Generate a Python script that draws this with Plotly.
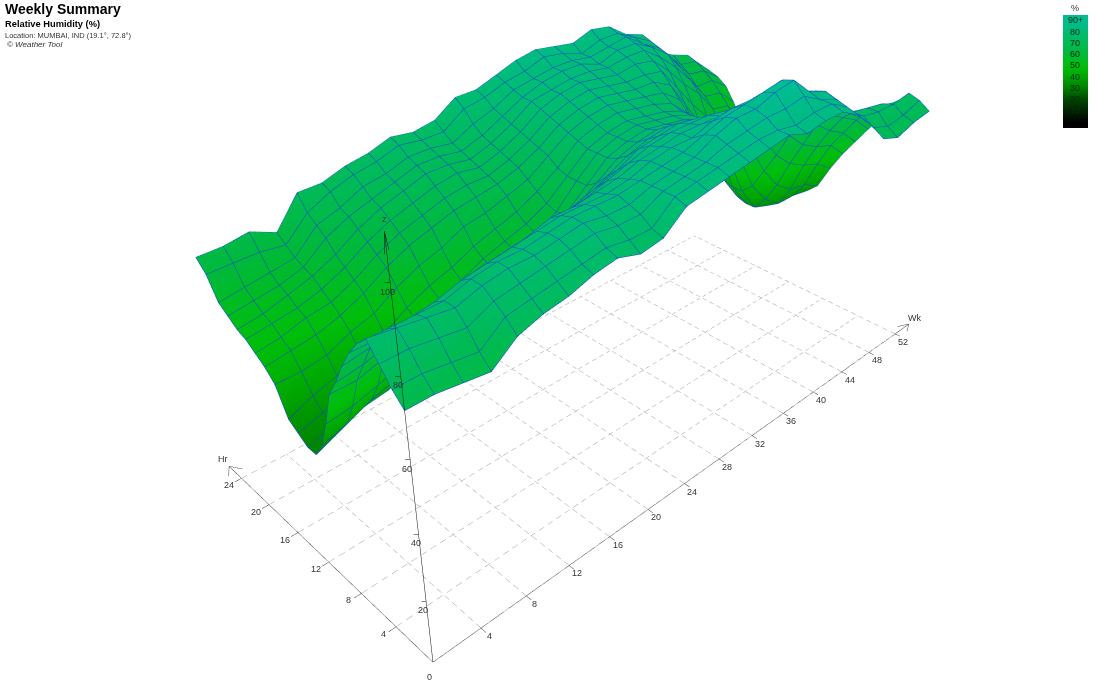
import plotly.graph_objects as go

# fig is taller than the window and pulled up by TOP, this gives the lens of the original view
H = 934.3
TOP = 118.7

weeks = [0, 2, 4, 6, 8, 10, 12, 14, 16, 18, 20, 22, 24, 26, 28, 30, 32, 34, 36, 38, 40, 42, 44, 46, 48, 50]
hours = [0, 1, 2, 3, 4, 5, 6, 7, 8, 9, 10, 11, 12, 13, 14, 15, 16, 17, 18, 19, 20, 21, 22, 23]

# relative humidity, one row per week, one value per hour
humidity = [
    [72, 75, 79, 83, 80, 76, 71, 65, 60, 50, 42, 37, 37, 39, 41, 49, 52, 54, 56, 57, 59, 61, 67, 70],
    [72, 75, 79, 82, 80, 76, 72, 66, 60, 51, 44, 40, 39, 41, 44, 49, 53, 55, 57, 58, 60, 62, 67, 70],
    [71, 74, 78, 81, 80, 77, 73, 68, 62, 53, 47, 43, 42, 43, 46, 50, 54, 57, 58, 60, 61, 63, 67, 71],
    [70, 73, 77, 80, 80, 78, 74, 69, 63, 55, 49, 44, 43, 45, 48, 53, 56, 58, 60, 62, 63, 64, 66, 68],
    [75, 78, 80, 82, 82, 80, 76, 71, 65, 58, 52, 48, 47, 48, 51, 55, 59, 61, 63, 65, 68, 70, 72, 76],
    [77, 79, 81, 83, 83, 81, 78, 73, 68, 62, 56, 53, 52, 53, 55, 59, 63, 65, 67, 69, 71, 72, 75, 76],
    [78, 80, 82, 83, 83, 82, 79, 75, 70, 65, 59, 56, 55, 56, 58, 62, 66, 68, 70, 72, 73, 75, 77, 78],
    [80, 81, 83, 84, 84, 83, 80, 76, 72, 67, 62, 58, 57, 58, 60, 64, 68, 70, 72, 74, 75, 76, 78, 79],
    [81, 82, 84, 85, 85, 84, 82, 78, 74, 69, 65, 61, 60, 61, 63, 67, 70, 72, 74, 76, 77, 78, 80, 81],
    [79, 81, 83, 84, 85, 84, 82, 79, 75, 71, 67, 63, 62, 63, 65, 68, 71, 73, 75, 76, 77, 78, 79, 80],
    [80, 81, 83, 84, 85, 84, 83, 80, 77, 73, 69, 65, 64, 65, 67, 70, 72, 73, 74, 75, 76, 77, 79, 81],
    [85, 86, 86, 86, 86, 85, 84, 82, 79, 75, 71, 68, 67, 68, 70, 72, 74, 75, 76, 77, 78, 80, 83, 85],
    [86, 87, 87, 87, 87, 87, 86, 84, 81, 78, 75, 73, 73, 73, 74, 76, 77, 78, 79, 80, 81, 82, 84, 85],
    [87, 88, 88, 88, 88, 88, 87, 86, 84, 81, 79, 78, 78, 78, 79, 80, 81, 82, 83, 84, 84, 85, 86, 87],
    [88, 89, 90, 91, 90, 88, 88, 87, 85, 83, 81, 80, 80, 80, 81, 82, 83, 84, 85, 85, 86, 86, 87, 89],
    [89, 90, 91, 93, 92, 90, 88, 87, 86, 84, 82, 81, 81, 81, 82, 83, 84, 85, 86, 86, 87, 87, 89, 90],
    [90, 90, 92, 93, 93, 91, 88, 87, 85, 83, 81, 80, 80, 80, 81, 82, 83, 84, 85, 86, 87, 87, 88, 89],
    [88, 89, 92, 95, 94, 91, 87, 86, 84, 82, 80, 79, 79, 79, 80, 81, 82, 83, 84, 85, 85, 86, 86, 88],
    [89, 90, 93, 96, 95, 91, 87, 85, 83, 81, 78, 77, 77, 77, 78, 80, 82, 83, 85, 86, 87, 87, 88, 90],
    [89, 90, 90, 91, 90, 88, 85, 82, 78, 75, 73, 72, 72, 72, 73, 76, 79, 82, 84, 86, 87, 88, 88, 89],
    [86, 87, 88, 89, 88, 85, 80, 76, 71, 66, 62, 60, 60, 60, 62, 66, 71, 75, 79, 82, 84, 84, 85, 85],
    [81, 82, 82, 82, 81, 79, 75, 70, 63, 57, 51, 48, 48, 49, 52, 57, 63, 68, 73, 77, 80, 81, 82, 83],
    [75, 77, 79, 79, 78, 76, 72, 65, 58, 50, 44, 40, 40, 41, 45, 50, 56, 62, 68, 71, 73, 75, 76, 76],
    [73, 75, 78, 78, 76, 73, 68, 62, 55, 46, 40, 38, 37, 38, 41, 45, 51, 56, 61, 64, 66, 69, 71, 73],
    [75, 76, 78, 77, 74, 70, 65, 60, 53, 45, 40, 38, 38, 39, 41, 45, 50, 55, 60, 63, 66, 68, 70, 71],
    [76, 78, 79, 74, 70, 65, 60, 55, 49, 42, 39, 39, 39, 40, 42, 44, 47, 50, 53, 58, 62, 64, 65, 65],
]

wk_ticks = [4, 8, 12, 16, 20, 24, 28, 32, 36, 40, 44, 48, 52]
hr_ticks = [4, 8, 12, 16, 20, 24]
z_ticks = [20, 40, 60, 80, 100]
legend_vals = [15, 25, 35, 45, 55, 65, 75, 85, 95]
legend_text = ["10", "20", "30", "40", "50", "60", "70", "80", "90+"]

colorscale = [
    [0.0, "rgb(0,0,0)"], [0.05, "rgb(0,0,0)"], [0.15, "rgb(0,35,0)"], [0.25, "rgb(0,70,0)"],
    [0.35, "rgb(0,125,0)"], [0.45, "rgb(0,165,0)"], [0.55, "rgb(0,190,10)"], [0.65, "rgb(0,185,55)"],
    [0.75, "rgb(0,186,85)"], [0.85, "rgb(0,188,115)"], [0.95, "rgb(0,188,145)"], [1.0, "rgb(0,188,145)"],
]


def ypos(py):
    return 1 - (py + TOP) / H


def add_lines(fig, xs, ys, zs, color, dash="solid"):
    fig.add_trace(go.Scatter3d(x=xs, y=ys, z=zs, mode="lines", line=dict(color=color, width=1, dash=dash),
                               hoverinfo="skip", showlegend=False))


def dashes(end):
    # start and stop of each short stroke along a floor line
    out = []
    pos = 0.0
    while pos < end:
        out.append((pos, min(pos + 0.5, end)))
        pos += 0.85
    return out


fig = go.Figure()
fig.add_trace(go.Surface(
    x=weeks, y=hours, z=[list(r) for r in zip(*humidity)],
    colorscale=colorscale, cmin=0, cmax=100, hoverinfo="skip",
    lighting=dict(ambient=1, diffuse=0, specular=0, fresnel=0, roughness=1),
    contours=dict(
        x=dict(show=True, start=0, end=50, size=2, color="#0f45d0", width=2, highlight=False),
        y=dict(show=True, start=0, end=23, size=1, color="#0f45d0", width=2, highlight=False),
        z=dict(highlight=False),
    ),
    colorbar=dict(
        x=1063 / 1100, xanchor="left", y=ypos(15), yanchor="top", xpad=0, ypad=0,
        thicknessmode="pixels", thickness=25, lenmode="pixels", len=113, outlinewidth=0,
        ticks="", showticklabels=False,
    ),
))

# blue outline of the surface
ex, ey, ez = [], [], []
for i, w in enumerate(weeks):
    ex.append(w)
    ey.append(hours[0])
    ez.append(humidity[i][0])
ex.append(None), ey.append(None), ez.append(None)
for i, w in enumerate(weeks):
    ex.append(w)
    ey.append(hours[-1])
    ez.append(humidity[i][-1])
ex.append(None), ey.append(None), ez.append(None)
for j, h in enumerate(hours):
    ex.append(weeks[0])
    ey.append(h)
    ez.append(humidity[0][j])
ex.append(None), ey.append(None), ez.append(None)
for j, h in enumerate(hours):
    ex.append(weeks[-1])
    ey.append(h)
    ez.append(humidity[-1][j])
add_lines(fig, ex, ey, ez, "#0f45d0")

# floor grid
gx, gy, gz = [], [], []
for w in [0] + wk_ticks:
    for a, b in dashes(24):
        gx += [w, w, None]
        gy += [a, b, None]
        gz += [0, 0, None]
for h in [0] + hr_ticks:
    for a, b in dashes(52):
        gx += [a, b, None]
        gy += [h, h, None]
        gz += [0, 0, None]
add_lines(fig, gx, gy, gz, "#aaa5a0")

# axes with their ticks and arrow heads
ax, ay, az = [0, 54.2, None, 54.2, 53.1, None, 54.2, 53.1, None], [0, 0, None, 0, 0.5, None, 0, -0.5, None], [0, 0, None, 0, 0, None, 0, 0, None]
ax += [0, 0, None, 0, 0.6, None, 0, -0.6, None]
ay += [0, 25.9, None, 25.9, 24.9, None, 25.9, 24.9, None]
az += [0, 0, None, 0, 0, None, 0, 0, None]
for w in wk_ticks:
    ax += [w, w, None]
    ay += [0, -0.5, None]
    az += [0, 0, None]
for h in hr_ticks:
    ax += [0, -0.6, None]
    ay += [h, h, None]
    az += [0, 0, None]
add_lines(fig, ax, ay, az, "#444444")

zx, zy, zz = [0, 0, None, 0, 0.2, None, 0, -0.2, None], [0, 0, None, 0, 0.1, None, 0, -0.1, None], [0, 110, None, 110, 106, None, 110, 106, None]
for z in z_ticks:
    zx += [0, -0.2, None]
    zy += [0, 0.2, None]
    zz += [z, z, None]
add_lines(fig, zx, zy, zz, "#111111")

labels = []
tick_font = dict(family="Liberation Sans", size=9, color="#333333")
for w in wk_ticks:
    labels.append(dict(x=w, y=0, z=0, text=str(w), xshift=8, yshift=-8))
for h in hr_ticks:
    labels.append(dict(x=0, y=h, z=0, text=str(h), xshift=-13, yshift=-7))
for z in z_ticks:
    labels.append(dict(x=0, y=0, z=z, text=str(z), xshift=-3, yshift=-9))
labels.append(dict(x=0, y=0, z=0, text="0", xshift=-3, yshift=-15))
labels.append(dict(x=54.2, y=0, z=0, text="Wk", xshift=6, yshift=6))
labels.append(dict(x=0, y=25.9, z=0, text="Hr", xshift=-6, yshift=7))
labels.append(dict(x=0, y=0, z=110, text="z", xshift=0, yshift=12))
for a in labels:
    a.update(showarrow=False, font=tick_font)

fig.add_annotation(x=3 / 1100, y=ypos(-1), xref="paper", yref="paper", xanchor="left", yanchor="top", showarrow=False,
                   text="<b>Weekly Summary</b>", font=dict(family="Liberation Sans", size=14, color="black"))
fig.add_annotation(x=3 / 1100, y=ypos(17), xref="paper", yref="paper", xanchor="left", yanchor="top", showarrow=False,
                   text="<b>Relative Humidity (%)</b>", font=dict(family="Liberation Sans", size=9.3, color="black"))
fig.add_annotation(x=3 / 1100, y=ypos(29), xref="paper", yref="paper", xanchor="left", yanchor="top", showarrow=False,
                   text="Location: MUMBAI, IND (19.1°, 72.8°)", font=dict(family="Liberation Sans", size=7.5, color="#333333"))
fig.add_annotation(x=5 / 1100, y=ypos(38), xref="paper", yref="paper", xanchor="left", yanchor="top", showarrow=False,
                   text="<i>© Weather Tool</i>", font=dict(family="Liberation Sans", size=8, color="#333333"))

# legend text sits on the colour bands
fig.add_annotation(x=1075 / 1100, y=ypos(8), xref="paper", yref="paper", xanchor="center", yanchor="middle", showarrow=False, text="%",
                   font=dict(family="Liberation Sans", size=9, color="#333333"))
for v, t in zip(legend_vals, legend_text):
    fig.add_annotation(x=1075 / 1100, y=ypos(15 + 113 * (1 - v / 100)), xref="paper", yref="paper", xanchor="center", yanchor="middle",
                       showarrow=False, text=t, font=dict(family="Liberation Sans", size=9, color="#0a2a14"))

fig.update_layout(
    width=1100, height=H, margin=dict(l=0, r=0, t=0, b=0), showlegend=False, paper_bgcolor="white",
    scene=dict(
        domain=dict(x=[0, 1], y=[0, 1]), annotations=labels, bgcolor="white",
        xaxis=dict(visible=False, range=[-1, 56]),
        yaxis=dict(visible=False, range=[-1, 26]),
        zaxis=dict(visible=False, range=[0, 115]),
        aspectmode="manual", aspectratio=dict(x=1.017857, y=0.47375, z=0.592),
        camera=dict(
            eye=dict(x=-0.94427, y=-0.92023, z=0.7515),
            center=dict(x=14.8963, y=16.4242, z=-16.5284),
            up=dict(x=0.4094, y=0.4285, z=0.8054),
        ),
    ),
)
fig.write_html("out.html", post_script=(
    "document.documentElement.style.overflow='hidden';document.body.style.margin='0';"
    "document.body.style.overflow='hidden';document.getElementById('{plot_id}').style.marginTop='-%dpx';" % round(TOP)
))
